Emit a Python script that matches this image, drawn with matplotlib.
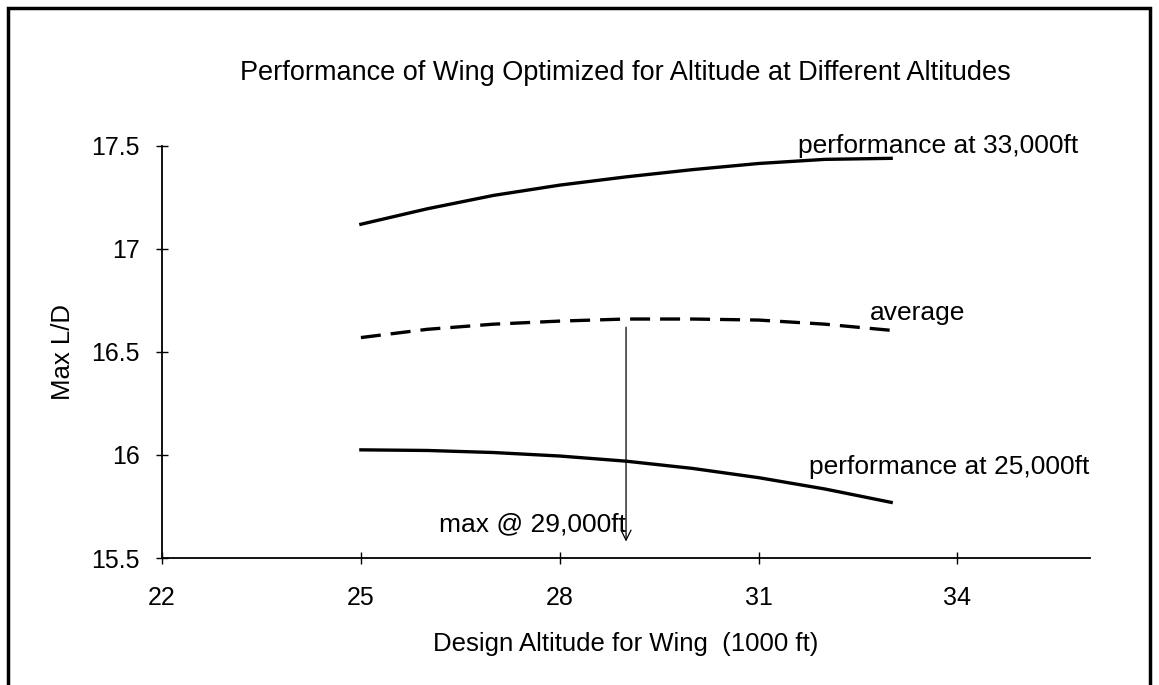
import numpy as np
import matplotlib.pyplot as plt
from matplotlib.patches import Rectangle

plt.rcParams['font.family'] = ['Liberation Sans', 'DejaVu Sans']

# design altitude (1000 ft)
altitud = [25, 26, 27, 28, 29, 30, 31, 32, 33]
# max L/D
ld_33000 = [17.12, 17.195, 17.26, 17.31, 17.35, 17.385, 17.415, 17.435, 17.44]
ld_25000 = [16.025, 16.022, 16.012, 15.995, 15.97, 15.935, 15.89, 15.835, 15.77]
ld_promedio = [16.57, 16.61, 16.635, 16.65, 16.66, 16.66, 16.655, 16.635, 16.605]

x_ticks = [22, 25, 28, 31, 34]
y_ticks = [15.5, 16, 16.5, 17, 17.5]
y_tick_labels = ['15.5', '16', '16.5', '17', '17.5']

fig = plt.figure(figsize=(11.59, 6.85), dpi=100)
ax = fig.add_axes([0.1398, 0.1854, 0.8007, 0.6015])

ax.plot(altitud, ld_33000, color='black', lw=2.4)
ax.plot(altitud, ld_25000, color='black', lw=2.4)
ax.plot(altitud, ld_promedio, color='black', lw=2.4, dashes=(6, 3))

# flecha del maximo
ax.annotate('', xy=(29, 15.58), xytext=(29, 16.62),
            arrowprops=dict(arrowstyle='->', color='black', lw=0.9,
                            mutation_scale=18, shrinkA=0, shrinkB=0))
ax.text(29, 15.665, 'max @ 29,000ft', ha='right', va='center', fontsize=19)

ax.text(31.6, 17.5, 'performance at 33,000ft', ha='left', va='center', fontsize=19)
ax.text(32.68, 16.69, 'average', ha='left', va='center', fontsize=19)
ax.text(31.76, 15.94, 'performance at 25,000ft', ha='left', va='center', fontsize=19)

ax.set_xlim(22, 36)
ax.set_ylim(15.5, 17.5)
ax.set_xticks(x_ticks)
ax.set_yticks(y_ticks)
ax.set_yticklabels(y_tick_labels)
ax.spines['top'].set_visible(False)
ax.spines['right'].set_visible(False)
ax.spines['left'].set_linewidth(1.3)
ax.spines['bottom'].set_linewidth(1.3)
ax.tick_params(direction='inout', length=8, width=1, labelsize=18)
ax.tick_params(axis='x', pad=16)
ax.tick_params(axis='y', pad=12)

ax.set_xlabel('Design Altitude for Wing  (1000 ft)', fontsize=18.5, labelpad=16)
ax.set_ylabel('Max L/D', fontsize=18.5, labelpad=12)
fig.text(0.54, 0.893, 'Performance of Wing Optimized for Altitude at Different Altitudes',
         ha='center', va='center', fontsize=19.5)

# marco alrededor del grafico
fig.patches.append(Rectangle((0.007, -0.05), 0.985, 1.038, transform=fig.transFigure,
                             fill=False, edgecolor='black', lw=2.5))

fig.savefig('out.png', dpi=100)
